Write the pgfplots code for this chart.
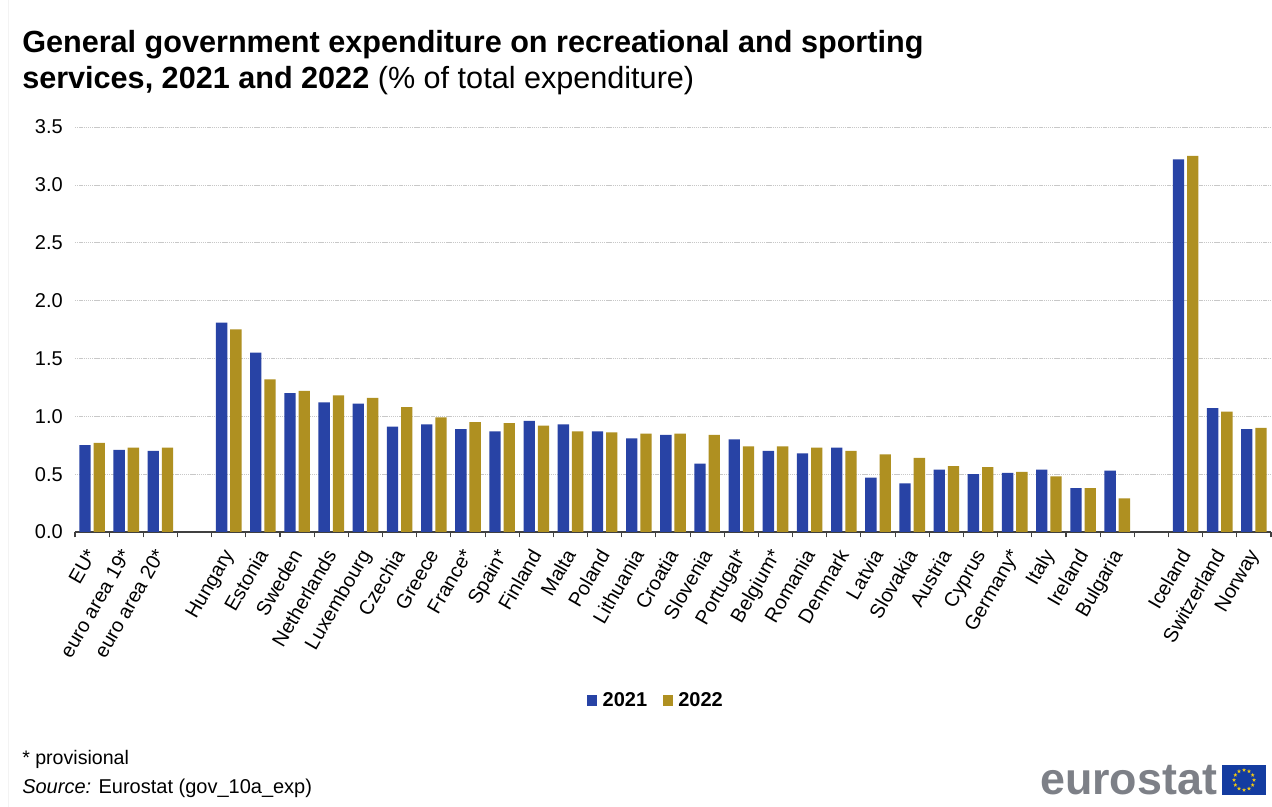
\documentclass[border=0pt]{standalone}
\usepackage{pgfplots}
\usepackage{pgfplotstable}
\usepackage{fontspec}
\setmainfont{Liberation Sans}
\pgfplotsset{compat=1.18}
\usetikzlibrary{shapes.geometric}
\definecolor{barblue}{RGB}{40,67,165}
\definecolor{bargold}{RGB}{175,144,33}
\definecolor{gridgrey}{RGB}{200,200,200}
\definecolor{logogrey}{RGB}{125,128,135}
\definecolor{flagblue}{RGB}{20,60,160}
\definecolor{flagstar}{RGB}{240,200,20}
\definecolor{framegrey}{RGB}{243,243,243}

\pgfplotstableread{
idx y2021 y2022
0 0.75 0.77
1 0.71 0.73
2 0.70 0.73
4 1.81 1.75
5 1.55 1.32
6 1.20 1.22
7 1.12 1.18
8 1.11 1.16
9 0.91 1.08
10 0.93 0.99
11 0.89 0.95
12 0.87 0.94
13 0.96 0.92
14 0.93 0.87
15 0.87 0.86
16 0.81 0.85
17 0.84 0.85
18 0.59 0.84
19 0.80 0.74
20 0.70 0.74
21 0.68 0.73
22 0.73 0.70
23 0.47 0.67
24 0.42 0.64
25 0.54 0.57
26 0.50 0.56
27 0.51 0.52
28 0.54 0.48
29 0.38 0.38
30 0.53 0.29
32 3.22 3.25
33 1.07 1.04
34 0.89 0.90
}\expenditure

\begin{document}
\begin{tikzpicture}[x=0.75pt,y=0.75pt]
\path[use as bounding box,fill=white] (0,0) rectangle (1272,807);
\draw[framegrey,line width=0.6pt] (8.5,0) -- (8.5,807);

% Title and notes
\node[anchor=base west,inner sep=0pt,font=\fontsize{22.95pt}{27pt}\selectfont\bfseries] at (22,754)
  {General government expenditure on recreational and sporting};
\node[anchor=base west,inner sep=0pt,font=\fontsize{22.95pt}{27pt}\selectfont] at (22,718)
  {\textbf{services, 2021 and 2022} (\% of total expenditure)};
\node[anchor=base west,inner sep=0pt,font=\fontsize{14.7pt}{18pt}\selectfont] at (22,42) {* provisional};
\node[anchor=base west,inner sep=0pt,font=\fontsize{15pt}{18pt}\selectfont] at (22,13) {\textit{Source:} Eurostat (gov\_10a\_exp)};

\begin{axis}[
  at={(56.25pt,206.25pt)}, anchor=south west,
  scale only axis, width=897pt, height=303.75pt,
  ymin=0, ymax=3.5, xmin=-0.5, xmax=34.5,
  ybar=2.2pt, bar width=8.5pt,
  ytick={0,0.5,...,3.5},
  yticklabel style={/pgf/number format/fixed,/pgf/number format/fixed zerofill,/pgf/number format/precision=1,
    /pgf/number format/assume math mode=true,inner sep=0pt,xshift=-9pt,font=\fontsize{15pt}{18pt}\selectfont},
  ymajorgrids, grid style={gridgrey,dash pattern=on 1pt off 0.6pt,line width=0.5pt},
  axis x line*=bottom, axis y line*=left,
  y axis line style={draw=none},
  x axis line style={-,black!75,line width=0.8pt},
  xtick={0,1,2,4,5,6,7,8,9,10,11,12,13,14,15,16,17,18,19,20,21,22,23,24,25,26,27,28,29,30,32,33,34},
  xticklabels={EU*,euro area 19*,euro area 20*,Hungary,Estonia,Sweden,Netherlands,Luxembourg,Czechia,Greece,France*,Spain*,Finland,Malta,Poland,Lithuania,Croatia,Slovenia,Portugal*,Belgium*,Romania,Denmark,Latvia,Slovakia,Austria,Cyprus,Germany*,Italy,Ireland,Bulgaria,Iceland,Switzerland,Norway},
  xticklabel style={rotate=60,anchor=north east,inner sep=0pt,yshift=-1.3pt,xshift=-12.4pt,font=\fontsize{15pt}{18pt}\selectfont},
  major tick length=0pt,
  minor xtick={-0.5,0.5,...,34.5},
  minor tick length=4pt,
  tick align=outside,
  minor tick style={black!75,line width=0.8pt},
  clip=false,
  legend columns=2,
  legend style={at={(436pt,-126.5pt)},anchor=center,draw=none,fill=none,
    font=\fontsize{15pt}{18pt}\selectfont\bfseries,inner sep=0pt,
    /tikz/every even column/.append style={column sep=9.75pt}},
  legend image code/.code={\fill[#1] (0pt,-3.7pt) rectangle (7.6pt,3.9pt); \path (9.6pt,0pt);},
]
\addplot[fill=barblue,draw=none] table[x=idx,y=y2021] {\expenditure};
\addplot[fill=bargold,draw=none] table[x=idx,y=y2022] {\expenditure};
\legend{2021,2022}
\end{axis}

% Eurostat logo
\node[anchor=base west,inner sep=0pt,text=logogrey,font=\fontsize{33.6pt}{34pt}\selectfont\bfseries] at (1040,12) {eurostat};
\fill[flagblue] (1222,12) rectangle (1266,42);
\foreach \a in {0,30,...,330}
  \node[star,star points=5,star point ratio=2.4,fill=flagstar,inner sep=0pt,minimum size=3.2pt] at ({1244+10*cos(\a)},{27+10*sin(\a)}) {};
\end{tikzpicture}
\end{document}
